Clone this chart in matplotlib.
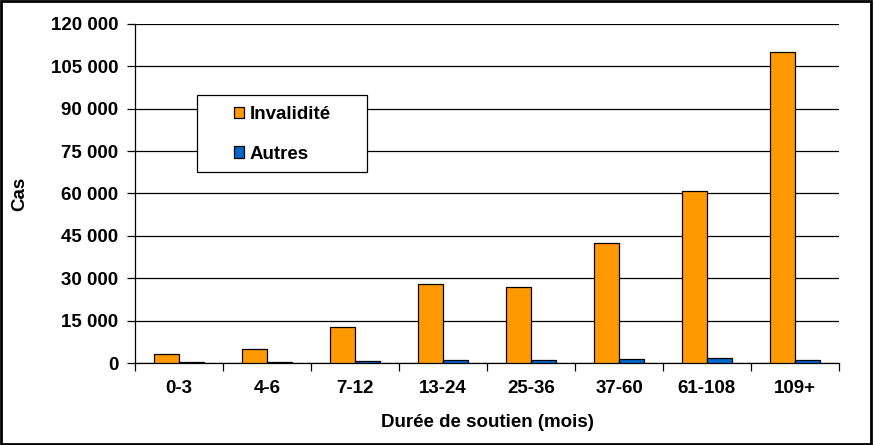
import matplotlib
matplotlib.use("Agg")
import matplotlib.pyplot as plt
from matplotlib.patches import Rectangle
from matplotlib.ticker import FuncFormatter, MultipleLocator, FixedLocator
import numpy as np

plt.rcParams['font.family'] = ['Liberation Sans', 'DejaVu Sans']
plt.rcParams['font.weight'] = 'bold'

categories = ["0-3", "4-6", "7-12", "13-24", "25-36", "37-60", "61-108", "109+"]
invalidite = [3100, 4900, 12600, 28000, 26900, 42400, 60900, 110200]
autres = [350, 350, 600, 950, 950, 1300, 1650, 950]

W, H = 873, 445
AX_L, AX_R, AX_T, AX_B = 135, 839, 24, 363
fig = plt.figure(figsize=(W / 100, H / 100), dpi=100)
ax = fig.add_axes([AX_L / W, 1 - AX_B / H, (AX_R - AX_L) / W, (AX_B - AX_T) / H])
aw, ah = AX_R - AX_L, AX_B - AX_T

x = np.arange(len(categories))
bw = 0.284
ax.bar(x - bw / 2, invalidite, bw, color="#FF9900", edgecolor="black", linewidth=0.9,
       label="Invalidité", zorder=3)
ax.bar(x + bw / 2, autres, bw, color="#0066CC", edgecolor="black", linewidth=0.9,
       label="Autres", zorder=3)

ax.set_xlim(-0.5, len(categories) - 0.5)
ax.set_ylim(0, 120000)
ax.yaxis.set_major_locator(MultipleLocator(15000))
ax.yaxis.set_major_formatter(FuncFormatter(lambda v, p: f"{int(v):,}".replace(",", " ")))
ax.yaxis.grid(True, color="black", linewidth=0.9, zorder=0)
ax.set_axisbelow(True)

fs = 13.5
ax.set_xticks(x)
ax.set_xticklabels(categories)
ax.xaxis.set_minor_locator(FixedLocator(np.arange(-0.5, len(categories), 1.0)))
ax.tick_params(axis="x", which="major", length=0, pad=12, labelsize=fs)
ax.tick_params(axis="x", which="minor", length=6, width=0.9, direction="out")
ax.tick_params(axis="y", length=6, width=0.9, direction="out", pad=6, labelsize=fs)

for s in ["top", "right"]:
    ax.spines[s].set_visible(False)
for s in ["left", "bottom"]:
    ax.spines[s].set_linewidth(0.9)

ax.set_ylabel("Cas", fontsize=fs, fontweight="bold")
ax.set_xlabel("Durée de soutien (mois)", fontsize=fs, fontweight="bold")
ax.yaxis.set_label_coords((28 - AX_L) / aw, 0.5)
ax.xaxis.set_label_coords(0.5, (AX_B - 414) / ah)

# legend box
ax.add_patch(Rectangle(((197 - AX_L) / aw, (AX_B - 172) / ah), (367 - 197) / aw, (172 - 95) / ah,
                       transform=ax.transAxes, facecolor="white", edgecolor="black",
                       linewidth=0.9, zorder=4, clip_on=False))
leg = ax.legend(loc="center left", bbox_to_anchor=((234 - AX_L) / aw, (AX_B - 134.5) / ah),
                frameon=False, fontsize=fs,
                handlelength=0.55, handleheight=0.55, handletextpad=0.3,
                labelspacing=1.2, borderpad=0, borderaxespad=0)
for t in leg.get_texts():
    t.set_fontweight("bold")
leg.set_zorder(5)

fig.patches.append(Rectangle((0.001, 0.002), 0.997, 0.996, transform=fig.transFigure,
                             fill=False, edgecolor="black", linewidth=2))

fig.savefig("out.png", dpi=100)
